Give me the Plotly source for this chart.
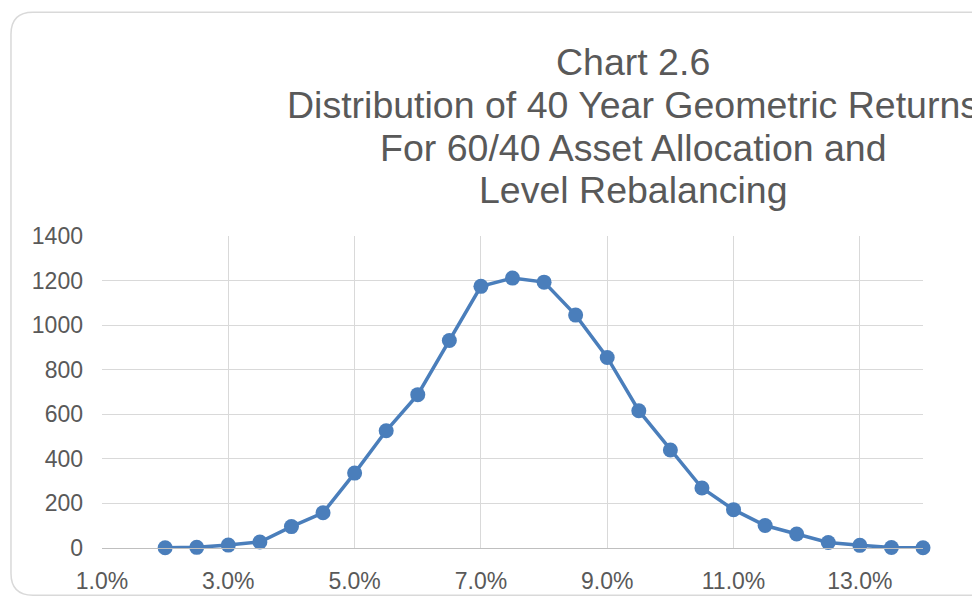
import plotly.graph_objects as go

# Geometric return buckets (percent) and number of simulated outcomes in each
returns_pct = [2.0, 2.5, 3.0, 3.5, 4.0, 4.5, 5.0, 5.5, 6.0, 6.5, 7.0, 7.5, 8.0,
               8.5, 9.0, 9.5, 10.0, 10.5, 11.0, 11.5, 12.0, 12.5, 13.0, 13.5, 14.0]
counts = [1, 3, 13, 27, 96, 158, 336, 526, 688, 931, 1174, 1211, 1193,
          1045, 855, 616, 440, 269, 172, 101, 63, 25, 12, 2, 1]

x_tick_vals = [1, 3, 5, 7, 9, 11, 13]
x_tick_text = ["1.0%", "3.0%", "5.0%", "7.0%", "9.0%", "11.0%", "13.0%"]
y_tick_vals = [0, 200, 400, 600, 800, 1000, 1200, 1400]

title_lines = [
    "Chart 2.6",
    "Distribution of 40 Year Geometric Returns",
    "For 60/40 Asset Allocation and",
    "Level Rebalancing",
]

W, H = 972, 598
L, R, T, B = 102, 49.3, 236, 49.7
PW, PH = W - L - R, H - T - B


def px_x(x):
    return (x - L) / PW


def px_y(y):
    return (H - B - y) / PH


TEXT = "#595959"
GRID = "#d9d9d9"
BLUE = "#4a7ebb"
FONT = "Liberation Sans, Arial, sans-serif"

fig = go.Figure()
fig.add_trace(go.Scatter(
    x=returns_pct, y=counts, mode="lines+markers",
    line=dict(color=BLUE, width=3.5),
    marker=dict(color=BLUE, size=15),
    cliponaxis=False, showlegend=False,
))

# chart frame with rounded left corners
r = 22
left, top, bottom, right = 11, 12, 595.5, 1100
path = (
    f"M {px_x(right)},{px_y(top)} "
    f"L {px_x(left + r)},{px_y(top)} "
    f"Q {px_x(left)},{px_y(top)} {px_x(left)},{px_y(top + r)} "
    f"L {px_x(left)},{px_y(bottom - r)} "
    f"Q {px_x(left)},{px_y(bottom)} {px_x(left + r)},{px_y(bottom)} "
    f"L {px_x(right)},{px_y(bottom)}"
)
fig.add_shape(type="path", xref="paper", yref="paper", path=path,
              line=dict(color="#d9d9d9", width=1.5), layer="below")

line_y = [62, 105, 148, 190]
for txt, yy in zip(title_lines, line_y):
    fig.add_annotation(
        text=txt, xref="paper", yref="paper", x=px_x(633), y=px_y(yy),
        xanchor="center", yanchor="middle", showarrow=False,
        font=dict(family=FONT, size=37.5, color=TEXT),
    )

fig.update_layout(
    width=W, height=H,
    margin=dict(l=L, r=R, t=T, b=B, pad=0, autoexpand=False),
    paper_bgcolor="white", plot_bgcolor="white",
    font=dict(family=FONT, size=23, color=TEXT),
    xaxis=dict(
        range=[1, 14], tickmode="array", tickvals=x_tick_vals, ticktext=x_tick_text,
        showgrid=True, gridcolor=GRID, gridwidth=1.4, zeroline=False,
        showline=True, linecolor="#bfbfbf", linewidth=1.4,
        ticks="", ticklabelstandoff=12, automargin=False,
        tickfont=dict(family=FONT, size=23, color=TEXT),
    ),
    yaxis=dict(
        range=[0, 1400], tickmode="array", tickvals=y_tick_vals,
        showgrid=True, gridcolor=GRID, gridwidth=1.4, zeroline=False,
        showline=False, ticks="", ticklabelstandoff=18, automargin=False,
        tickfont=dict(family=FONT, size=23, color=TEXT),
    ),
)

fig.write_html("out.html")
